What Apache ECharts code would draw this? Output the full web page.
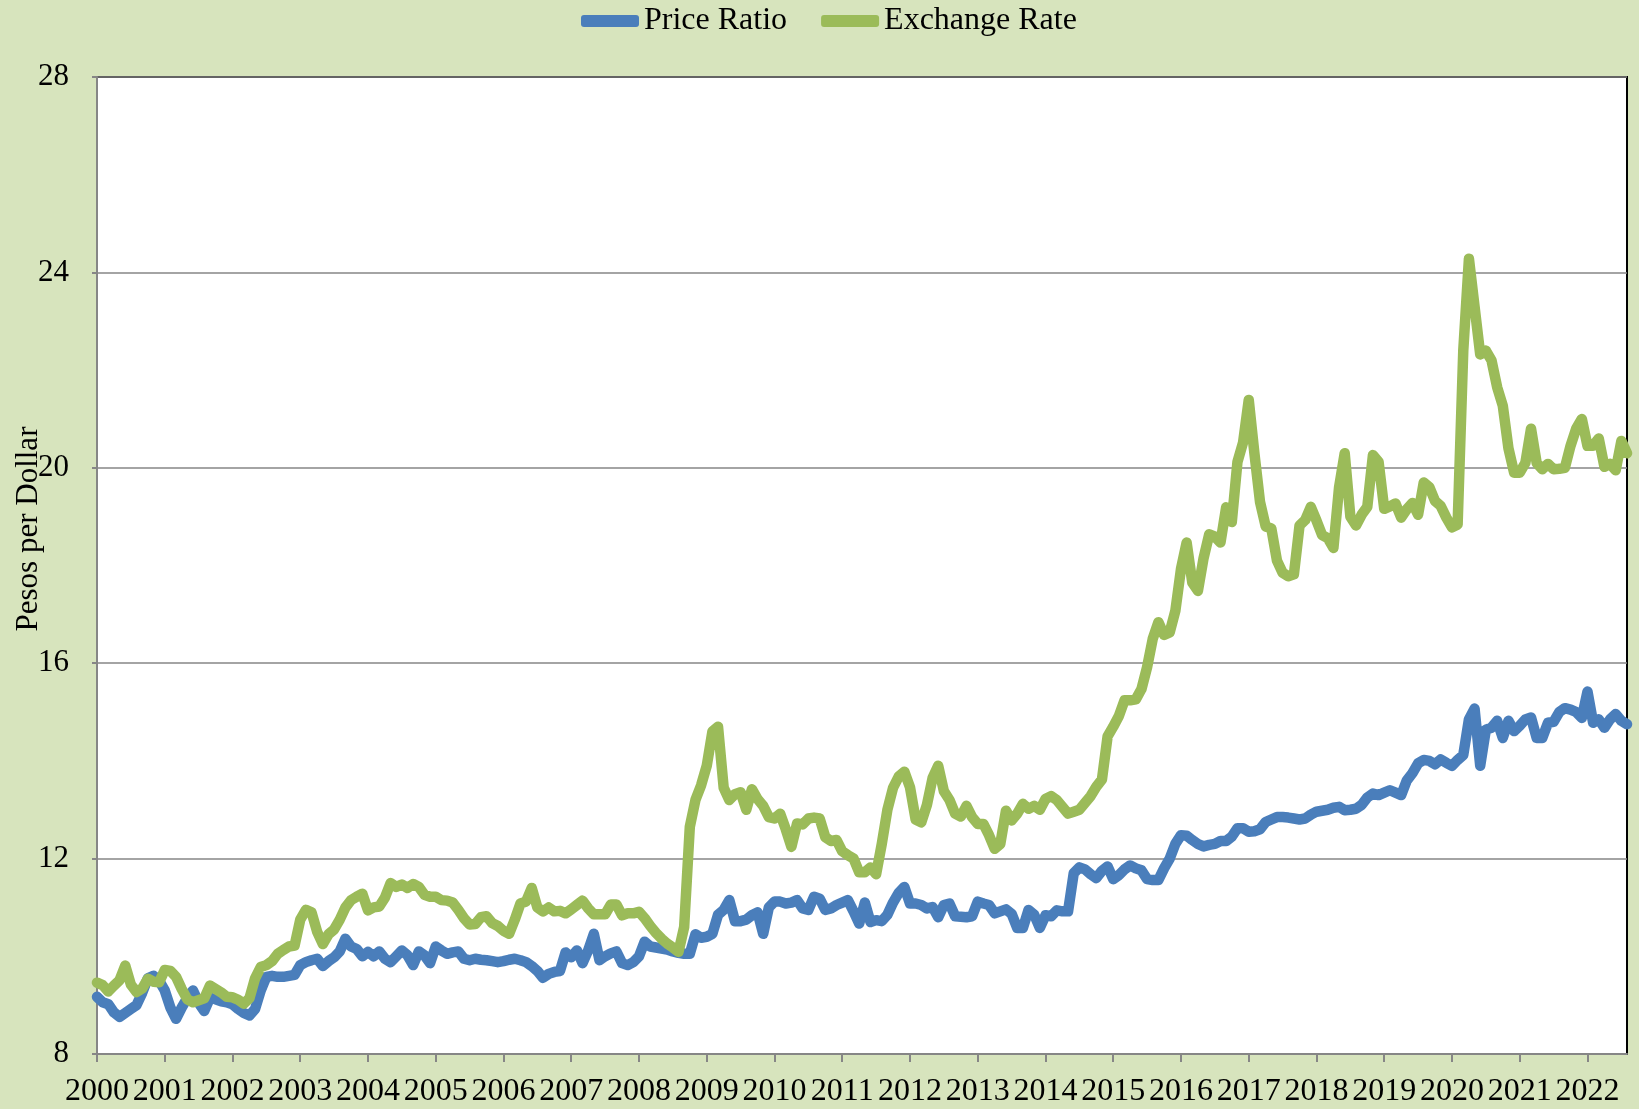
<!DOCTYPE html>
<html>
<head>
<meta charset="utf-8">
<script src="https://cdn.jsdelivr.net/npm/echarts@6/dist/echarts.min.js"></script>
<style>
html,body{margin:0;padding:0;background:#d7e4bd;}
#chart{width:1639px;height:1109px;}
</style>
</head>
<body>
<div id="chart"></div>
<script>
// Years on the axis and number of monthly observations in each
const years = ['2000','2001','2002','2003','2004','2005','2006','2007','2008','2009','2010','2011',
               '2012','2013','2014','2015','2016','2017','2018','2019','2020','2021','2022'];
const monthsInYear = [12,12,12,12,12,12,12,12,12,12,12,12,12,12,12,12,12,12,12,12,12,12,8];
const monthCodes = ['01','02','03','04','05','06','07','08','09','10','11','12'];

const seriesNames = ['Price Ratio', 'Exchange Rate'];

// Price Ratio (monthly)
const priceRatio = [
  9.17, 9.06, 9.02, 8.85, 8.76, 8.84, 8.92, 9.00, 9.25, 9.55, 9.60, 9.50,        // 2000
  9.30, 8.95, 8.72, 8.95, 9.15, 9.30, 9.05, 8.88, 9.15, 9.12, 9.08, 9.06,        // 2001
  9.02, 8.92, 8.84, 8.79, 8.92, 9.30, 9.58, 9.60, 9.58, 9.58, 9.60, 9.62,        // 2002
  9.82, 9.88, 9.92, 9.95, 9.80, 9.90, 9.98, 10.10, 10.36, 10.20, 10.15, 10.00,   // 2003
  10.09, 10.00, 10.10, 9.95, 9.88, 10.00, 10.12, 10.02, 9.82, 10.10, 10.02, 9.86, // 2004
  10.20, 10.12, 10.05, 10.08, 10.10, 9.95, 9.92, 9.95, 9.93, 9.92, 9.90, 9.88,   // 2005
  9.90, 9.93, 9.95, 9.92, 9.88, 9.80, 9.70, 9.56, 9.64, 9.68, 9.70, 10.08,       // 2006
  9.98, 10.12, 9.86, 10.12, 10.46, 9.92, 10.00, 10.06, 10.10, 9.86, 9.82, 9.88,  // 2007
  10.00, 10.30, 10.20, 10.18, 10.16, 10.14, 10.10, 10.07, 10.05, 10.05, 10.45, 10.38, // 2008
  10.40, 10.46, 10.85, 10.95, 11.15, 10.72, 10.72, 10.75, 10.84, 10.90, 10.46, 11.00, // 2009
  11.12, 11.12, 11.08, 11.10, 11.15, 10.98, 10.95, 11.22, 11.18, 10.95, 10.98, 11.05, // 2010
  11.10, 11.15, 10.92, 10.67, 11.10, 10.70, 10.74, 10.72, 10.85, 11.10, 11.30, 11.42, // 2011
  11.08, 11.08, 11.05, 10.98, 11.01, 10.80, 11.05, 11.08, 10.82, 10.81, 10.80, 10.82, // 2012
  11.12, 11.08, 11.05, 10.88, 10.92, 10.96, 10.87, 10.58, 10.58, 10.95, 10.85, 10.58, // 2013
  10.84, 10.82, 10.94, 10.92, 10.92, 11.70, 11.82, 11.78, 11.68, 11.60, 11.75, 11.84, // 2014
  11.58, 11.66, 11.78, 11.86, 11.80, 11.76, 11.58, 11.56, 11.56, 11.80, 12.00, 12.30, // 2015
  12.48, 12.47, 12.38, 12.30, 12.25, 12.28, 12.30, 12.36, 12.36, 12.45, 12.62, 12.62, // 2016
  12.55, 12.56, 12.60, 12.75, 12.80, 12.85, 12.85, 12.84, 12.82, 12.80, 12.82, 12.90, // 2017
  12.96, 12.98, 13.00, 13.04, 13.06, 12.99, 13.00, 13.02, 13.10, 13.25, 13.33, 13.30, // 2018
  13.35, 13.40, 13.35, 13.30, 13.60, 13.75, 13.95, 14.02, 14.00, 13.93, 14.03, 13.96, // 2019
  13.90, 14.02, 14.12, 14.85, 15.07, 13.90, 14.64, 14.68, 14.82, 14.47, 14.82, 14.61, // 2020
  14.72, 14.85, 14.89, 14.47, 14.47, 14.78, 14.80, 15.00, 15.08, 15.05, 15.00, 14.88, // 2021
  15.42, 14.78, 14.85, 14.68, 14.85, 14.96, 14.82, 14.75                          // 2022
];

// Exchange Rate (pesos per dollar, monthly)
const exchangeRate = [
  9.46, 9.41, 9.28, 9.40, 9.51, 9.81, 9.42, 9.27, 9.34, 9.54, 9.48, 9.47,        // 2000
  9.72, 9.70, 9.58, 9.33, 9.12, 9.06, 9.10, 9.14, 9.40, 9.33, 9.26, 9.17,        // 2001
  9.16, 9.11, 9.03, 9.14, 9.55, 9.78, 9.82, 9.90, 10.05, 10.13, 10.20, 10.22,    // 2002
  10.75, 10.95, 10.90, 10.50, 10.25, 10.45, 10.55, 10.75, 11.00, 11.15, 11.22, 11.28, // 2003
  10.94, 11.00, 11.02, 11.20, 11.50, 11.42, 11.47, 11.40, 11.48, 11.42, 11.26, 11.22, // 2004
  11.22, 11.15, 11.14, 11.10, 10.95, 10.78, 10.65, 10.66, 10.80, 10.82, 10.68, 10.62, // 2005
  10.52, 10.46, 10.75, 11.08, 11.12, 11.40, 11.00, 10.92, 11.00, 10.92, 10.93, 10.88, // 2006
  10.96, 11.05, 11.14, 10.98, 10.86, 10.86, 10.86, 11.06, 11.06, 10.84, 10.88, 10.88, // 2007
  10.91, 10.78, 10.62, 10.48, 10.36, 10.26, 10.18, 10.09, 10.60, 12.65, 13.20, 13.50, // 2008
  13.90, 14.60, 14.70, 13.45, 13.20, 13.32, 13.36, 13.00, 13.42, 13.22, 13.08, 12.85, // 2009
  12.82, 12.92, 12.60, 12.24, 12.72, 12.70, 12.82, 12.84, 12.82, 12.44, 12.36, 12.38, // 2010
  12.15, 12.07, 12.00, 11.72, 11.72, 11.82, 11.68, 12.30, 13.00, 13.45, 13.68, 13.78, // 2011
  13.46, 12.80, 12.74, 13.10, 13.65, 13.90, 13.38, 13.20, 12.92, 12.86, 13.08, 12.85, // 2012
  12.71, 12.71, 12.48, 12.20, 12.30, 12.98, 12.78, 12.92, 13.12, 13.02, 13.08, 13.00, // 2013
  13.22, 13.28, 13.20, 13.06, 12.92, 12.96, 13.00, 13.14, 13.28, 13.47, 13.62, 14.50, // 2014
  14.70, 14.92, 15.24, 15.24, 15.26, 15.47, 15.92, 16.50, 16.84, 16.58, 16.63, 17.07, // 2015
  17.93, 18.47, 17.65, 17.48, 18.15, 18.64, 18.59, 18.47, 19.19, 18.89, 20.12, 20.52, // 2016
  21.39, 20.30, 19.30, 18.80, 18.76, 18.10, 17.85, 17.78, 17.82, 18.82, 18.93, 19.20, // 2017
  18.92, 18.62, 18.56, 18.36, 19.60, 20.30, 19.00, 18.82, 19.04, 19.20, 20.26, 20.12, // 2018
  19.16, 19.21, 19.27, 18.98, 19.15, 19.28, 19.04, 19.70, 19.60, 19.32, 19.22, 18.98, // 2019
  18.78, 18.84, 22.40, 24.28, 23.30, 22.32, 22.40, 22.20, 21.65, 21.27, 20.40, 19.90, // 2020
  19.90, 20.10, 20.80, 20.10, 19.97, 20.08, 19.97, 19.98, 20.00, 20.45, 20.80, 21.00, // 2021
  20.45, 20.45, 20.60, 20.02, 20.08, 19.95, 20.55, 20.30                          // 2022
];

const yTicks = { min: 8, max: 28, step: 4 };

// Month categories built from the year list
const categories = [];
years.forEach(function (y, i) {
  for (let m = 0; m < monthsInYear[i]; m++) categories.push(y + '-' + monthCodes[m]);
});

const FONT = '"Liberation Serif", "Times New Roman", serif';
const chart = echarts.init(document.getElementById('chart'), null, { renderer: 'canvas' });

chart.setOption({
  animation: false,
  backgroundColor: '#d7e4bd',
  textStyle: { fontFamily: FONT },
  legend: {
    data: seriesNames,
    top: 0,
    left: 576,
    icon: 'roundRect',
    itemWidth: 58,
    itemHeight: 12,
    itemGap: 34,
    textStyle: { fontSize: 32, color: '#000', fontFamily: FONT }
  },
  grid: {
    left: 97, right: 12, top: 77, bottom: 55,
    show: true,
    backgroundColor: '#ffffff',
    borderColor: '#000000',
    borderWidth: 2
  },
  xAxis: {
    type: 'category',
    data: categories,
    boundaryGap: false,
    axisLine: { show: true, lineStyle: { color: '#868686', width: 2 } },
    axisTick: {
      show: true,
      interval: function (i) { return i % 12 === 0; },
      length: 8,
      lineStyle: { color: '#868686', width: 2 }
    },
    axisLabel: {
      interval: function (i) { return i % 12 === 0; },
      formatter: function (v) { return v.slice(0, 4); },
      fontSize: 32,
      color: '#000',
      fontFamily: FONT,
      margin: 22
    },
    splitLine: { show: false }
  },
  yAxis: {
    type: 'value',
    min: yTicks.min,
    max: yTicks.max,
    interval: yTicks.step,
    axisLine: { show: true, lineStyle: { color: '#868686', width: 2 } },
    axisTick: { show: true, length: 5, lineStyle: { color: '#868686', width: 2 } },
    axisLabel: { fontSize: 31, color: '#000', fontFamily: FONT, margin: 28 },
    splitLine: { show: true, lineStyle: { color: '#868686', width: 1.5 } }
  },
  graphic: [{
    type: 'text',
    x: 29,
    y: 529,
    rotation: Math.PI / 2,
    style: {
      text: 'Pesos per Dollar',
      fill: '#000',
      font: '31px ' + FONT,
      textAlign: 'center',
      textVerticalAlign: 'middle'
    }
  }],
  series: [
    {
      name: seriesNames[0],
      type: 'line',
      data: priceRatio,
      symbol: 'none',
      showSymbol: false,
      smooth: false,
      itemStyle: { color: '#4a7ebb' },
      lineStyle: { color: '#4a7ebb', width: 10.5, cap: 'round', join: 'round' },
      z: 2
    },
    {
      name: seriesNames[1],
      type: 'line',
      data: exchangeRate,
      symbol: 'none',
      showSymbol: false,
      smooth: false,
      itemStyle: { color: '#9bbb59' },
      lineStyle: { color: '#9bbb59', width: 10.5, cap: 'round', join: 'round' },
      z: 3
    }
  ]
});
</script>
</body>
</html>
